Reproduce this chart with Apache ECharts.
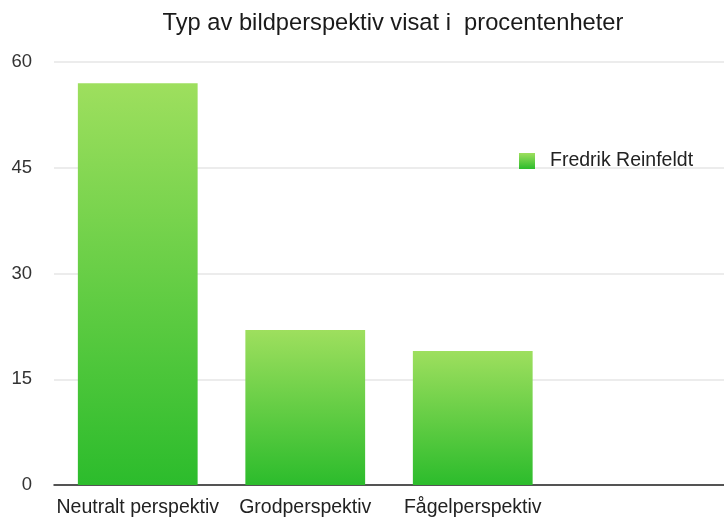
<!DOCTYPE html>
<html><head><meta charset="utf-8">
<script src="https://cdn.jsdelivr.net/npm/echarts@6/dist/echarts.min.js"></script>
<style>html,body{margin:0;padding:0;background:#fff}#c{width:724px;height:522px}</style>
</head><body><div id="c"></div>
<script>
const titleText = "Typ av bildperspektiv visat i  procentenheter";
const categories = ["Neutralt perspektiv", "Grodperspektiv", "Fågelperspektiv", ""];
const seriesName = "Fredrik Reinfeldt";
const values = [57, 22, 19, null];
const yTicks = { min: 0, max: 60, interval: 15 };

const chart = echarts.init(document.getElementById('c'), null, {renderer: 'canvas'});
const grad = new echarts.graphic.LinearGradient(0, 0, 0, 1, [
  {offset: 0, color: '#9edf5e'},
  {offset: 1, color: '#2cbc2c'}
]);
chart.setOption({
  animation: false,
  backgroundColor: '#fff',
  textStyle: {fontFamily: 'Liberation Sans, Arial, sans-serif'},
  title: {
    text: titleText, left: 388, top: 6, textAlign: 'center',
    textStyle: {fontSize: 23.7, fontWeight: 'normal', color: '#1a1a1a', fontFamily: 'Liberation Sans'}
  },
  legend: {
    data: [seriesName], left: 519, top: 151, orient: 'vertical', padding: 0,
    itemWidth: 16, itemHeight: 16, itemGap: 14,
    textStyle: {fontSize: 19.5, color: '#222', padding: [0,0,0,10]},
    icon: 'rect'
  },
  grid: {left: 54, right: 0, top: 62, bottom: 37, containLabel: false},
  xAxis: {
    type: 'category', data: categories,
    axisLine: {show: true, lineStyle: {color: '#222', width: 1.5}},
    axisTick: {show: false},
    axisLabel: {fontSize: 19.5, color: '#222', margin: 13, interval: 0}
  },
  yAxis: {
    type: 'value', min: yTicks.min, max: yTicks.max, interval: yTicks.interval,
    axisLine: {show: false}, axisTick: {show: false},
    axisLabel: {fontSize: 18.5, color: '#333', margin: 22},
    splitLine: {lineStyle: {color: '#e6e6e6', width: 1.5}}
  },
  series: [{
    name: seriesName, type: 'bar', data: values, barWidth: '71.5%',
    itemStyle: {color: grad}
  }]
});
</script></body></html>
